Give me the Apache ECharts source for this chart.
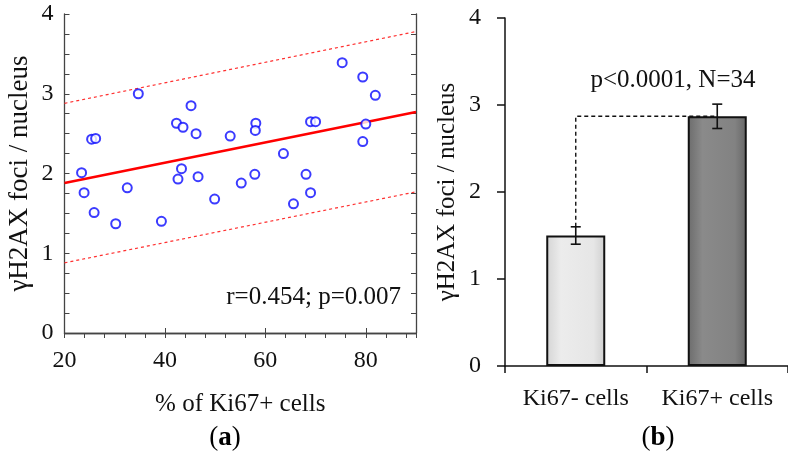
<!DOCTYPE html>
<html><head><meta charset="utf-8">
<script src="https://cdn.jsdelivr.net/npm/echarts@6/dist/echarts.min.js"></script>
<style>html,body{margin:0;padding:0;background:#fff}#c{width:788px;height:456px}</style>
</head><body><div id="c"></div>
<script>
// Panel (a): scatter data
const ki67Pct = [75.3, 79.4, 81.9, 34.7, 45.2, 42.3, 43.6, 46.2, 25.4, 26.2, 53.0, 58.1, 58.0, 69.0, 70.0, 80.0, 79.4,
                 63.6, 23.4, 43.3, 42.6, 46.6, 57.9, 68.1, 23.9, 32.5, 25.9, 30.2, 39.3, 49.9, 55.2, 65.6, 69.0];
const fociPerNucleus = [3.39, 3.21, 2.98, 3.00, 2.85, 2.63, 2.58, 2.50, 2.43, 2.44, 2.47, 2.63, 2.54, 2.65, 2.65, 2.62, 2.40,
                        2.25, 2.01, 2.06, 1.93, 1.96, 1.99, 1.99, 1.76, 1.82, 1.51, 1.37, 1.40, 1.68, 1.88, 1.62, 1.76];
// regression line and prediction band
const fitX = [20, 90];
const fitY = [1.88, 2.77];
const upperY = [2.88, 3.78];
const lowerY = [0.88, 1.77];
// Panel (b): bars
const barCats = ['Ki67- cells', 'Ki67+ cells'];
const barVals = [1.5, 2.87];
const barErr = [0.1, 0.14];
const connectorY = [1.6, 2.87];
// tick labels
const xTickLabels = [20, 40, 60, 80];
const yTickLabels = [0, 1, 2, 3, 4];

const FONT = 'Liberation Serif';
const txt = {fontFamily: FONT, color: '#111'};

const chart = echarts.init(document.getElementById('c'), null, {renderer: 'canvas'});
const boxLine = {show: true, lineStyle: {color: '#444', width: 1.3}};

const option = {
  animation: false,
  backgroundColor: '#fff',
  grid: [
    {left: 64.5, top: 14, width: 351.5, height: 319},
    {left: 505, top: 18, width: 294, height: 348}
  ],
  xAxis: [
    {gridIndex: 0, type: 'value', min: 20, max: 90, interval: 20, position: 'bottom',
     axisLine: boxLine, axisTick: {show: true, inside: true, length: 5, lineStyle: {color: '#444'}},
     splitLine: {show: false},
     axisLabel: Object.assign({fontSize: 24, margin: 16,
       formatter: v => xTickLabels.includes(v) ? String(v) : ''}, txt),
     name: '% of Ki67+ cells', nameLocation: 'middle', nameGap: 59,
     nameTextStyle: Object.assign({fontSize: 25}, txt)},
    {gridIndex: 0, type: 'value', min: 20, max: 90, interval: 4, position: 'top',
     axisLine: boxLine, axisTick: {show: true, inside: true, length: 5, lineStyle: {color: '#444'}},
     splitLine: {show: false}, axisLabel: {show: false}},
    {gridIndex: 1, type: 'category', data: barCats, position: 'bottom',
     axisLine: {show: true, lineStyle: {color: '#111', width: 1.5}},
     axisTick: {show: true, inside: false, length: 7, alignWithLabel: false, interval: 0, lineStyle: {color: '#111', width: 1.5}},
     axisLabel: Object.assign({fontSize: 24, margin: 21, interval: 0, hideOverlap: false}, txt)}
  ],
  yAxis: [
    {gridIndex: 0, type: 'value', min: 0, max: 4, interval: 1, position: 'left',
     axisLine: boxLine,
     axisTick: {show: true, inside: true, length: 5, lineStyle: {color: '#444'}},
     minorTick: {show: true, splitNumber: 4, length: 5, lineStyle: {color: '#444'}},
     splitLine: {show: false}, minorSplitLine: {show: false},
     axisLabel: Object.assign({fontSize: 24, margin: 11,
       formatter: v => yTickLabels.includes(v) ? String(v) : ''}, txt),
     name: 'γH2AX foci / nucleus', nameLocation: 'middle', nameGap: 31, nameRotate: 90,
     nameTextStyle: Object.assign({fontSize: 27}, txt)},
    {gridIndex: 0, type: 'value', min: 0, max: 4, interval: 0.25, position: 'right',
     axisLine: boxLine,
     axisTick: {show: true, inside: true, length: 5, lineStyle: {color: '#444'}},
     splitLine: {show: false}, axisLabel: {show: false}},
    {gridIndex: 1, type: 'value', min: 0, max: 4, interval: 1, position: 'left',
     axisLine: {show: true, lineStyle: {color: '#111', width: 1.5}},
     axisTick: {show: true, inside: false, length: 8, lineStyle: {color: '#111', width: 1.5}},
     splitLine: {show: false},
     axisLabel: Object.assign({fontSize: 24, margin: 24,
       formatter: v => yTickLabels.includes(v) ? String(v) : ''}, txt),
     name: 'γH2AX foci / nucleus', nameLocation: 'middle', nameGap: 45, nameRotate: 90,
     nameTextStyle: Object.assign({fontSize: 25}, txt)}
  ],
  series: [
    {type: 'line', xAxisIndex: 0, yAxisIndex: 0, symbol: 'none', silent: true,
     data: fitX.map((x, i) => [x, upperY[i]]),
     lineStyle: {color: '#ff3030', width: 1.2, type: [3, 3]}},
    {type: 'line', xAxisIndex: 0, yAxisIndex: 0, symbol: 'none', silent: true,
     data: fitX.map((x, i) => [x, lowerY[i]]),
     lineStyle: {color: '#ff3030', width: 1.2, type: [3, 3]}},
    {type: 'line', xAxisIndex: 0, yAxisIndex: 0, symbol: 'none', silent: true,
     data: fitX.map((x, i) => [x, fitY[i]]),
     lineStyle: {color: '#ff0000', width: 2.6}},
    {type: 'scatter', xAxisIndex: 0, yAxisIndex: 0, symbol: 'emptyCircle', symbolSize: 9,
     data: ki67Pct.map((x, i) => [x, fociPerNucleus[i]]),
     itemStyle: {color: '#0a0aff', borderColor: '#0a0aff', borderWidth: 1.8}, z: 5},
    {type: 'bar', xAxisIndex: 2, yAxisIndex: 2, barWidth: 59,
     data: barVals.map((v, i) => ({
       value: v,
       itemStyle: {
         color: new echarts.graphic.LinearGradient(0, 0, 1, 0, i === 0
           ? [{offset: 0, color: '#d4d4d4'}, {offset: 0.25, color: '#ececec'}, {offset: 0.8, color: '#e6e6e6'}, {offset: 1, color: '#cfcfcf'}]
           : [{offset: 0, color: '#6c6c6c'}, {offset: 0.25, color: '#8a8a8a'}, {offset: 0.8, color: '#828282'}, {offset: 1, color: '#666'}]),
         borderColor: '#111', borderWidth: 2
       }
     }))},
    {type: 'line', xAxisIndex: 2, yAxisIndex: 2, symbol: 'none', silent: true, z: 6,
     data: [[0, connectorY[0]], [0, connectorY[1]], [1, connectorY[1]]],
     lineStyle: {color: '#111', width: 1.4, type: [4, 3]}},
    {type: 'custom', xAxisIndex: 2, yAxisIndex: 2, z: 7,
     data: barVals.map((v, i) => [i, v - barErr[i], v + barErr[i]]),
     encode: {x: 0, y: [1, 2]},
     renderItem: (params, api) => {
       const lo = api.coord([api.value(0), api.value(1)]);
       const hi = api.coord([api.value(0), api.value(2)]);
       const w = 5;
       const st = {stroke: '#111', lineWidth: 1.6};
       return {type: 'group', children: [
         {type: 'line', shape: {x1: lo[0], y1: lo[1], x2: hi[0], y2: hi[1]}, style: st},
         {type: 'line', shape: {x1: hi[0] - w, y1: hi[1], x2: hi[0] + w, y2: hi[1]}, style: st},
         {type: 'line', shape: {x1: lo[0] - w, y1: lo[1], x2: lo[0] + w, y2: lo[1]}, style: st}
       ]};
     }}
  ],
  graphic: [
    {type: 'text', x: 401, y: 297, style: {text: 'r=0.454; p=0.007', font: '25px "Liberation Serif"', fill: '#111', align: 'right', verticalAlign: 'middle'}},
    {type: 'text', x: 673, y: 80, style: {text: 'p<0.0001, N=34', font: '25px "Liberation Serif"', fill: '#111', align: 'center', verticalAlign: 'middle'}},
    {type: 'text', x: 225, y: 438, style: {text: '{p|(}{b|a}{p|)}', align: 'center', verticalAlign: 'middle',
      rich: {p: {fontFamily: FONT, fontSize: 27, color: '#111'}, b: {fontFamily: FONT, fontSize: 27, fontWeight: 'bold', color: '#111'}}}},
    {type: 'text', x: 658, y: 438, style: {text: '{p|(}{b|b}{p|)}', align: 'center', verticalAlign: 'middle',
      rich: {p: {fontFamily: FONT, fontSize: 27, color: '#111'}, b: {fontFamily: FONT, fontSize: 27, fontWeight: 'bold', color: '#111'}}}}
  ]
};
chart.setOption(option);
</script>
</body></html>
